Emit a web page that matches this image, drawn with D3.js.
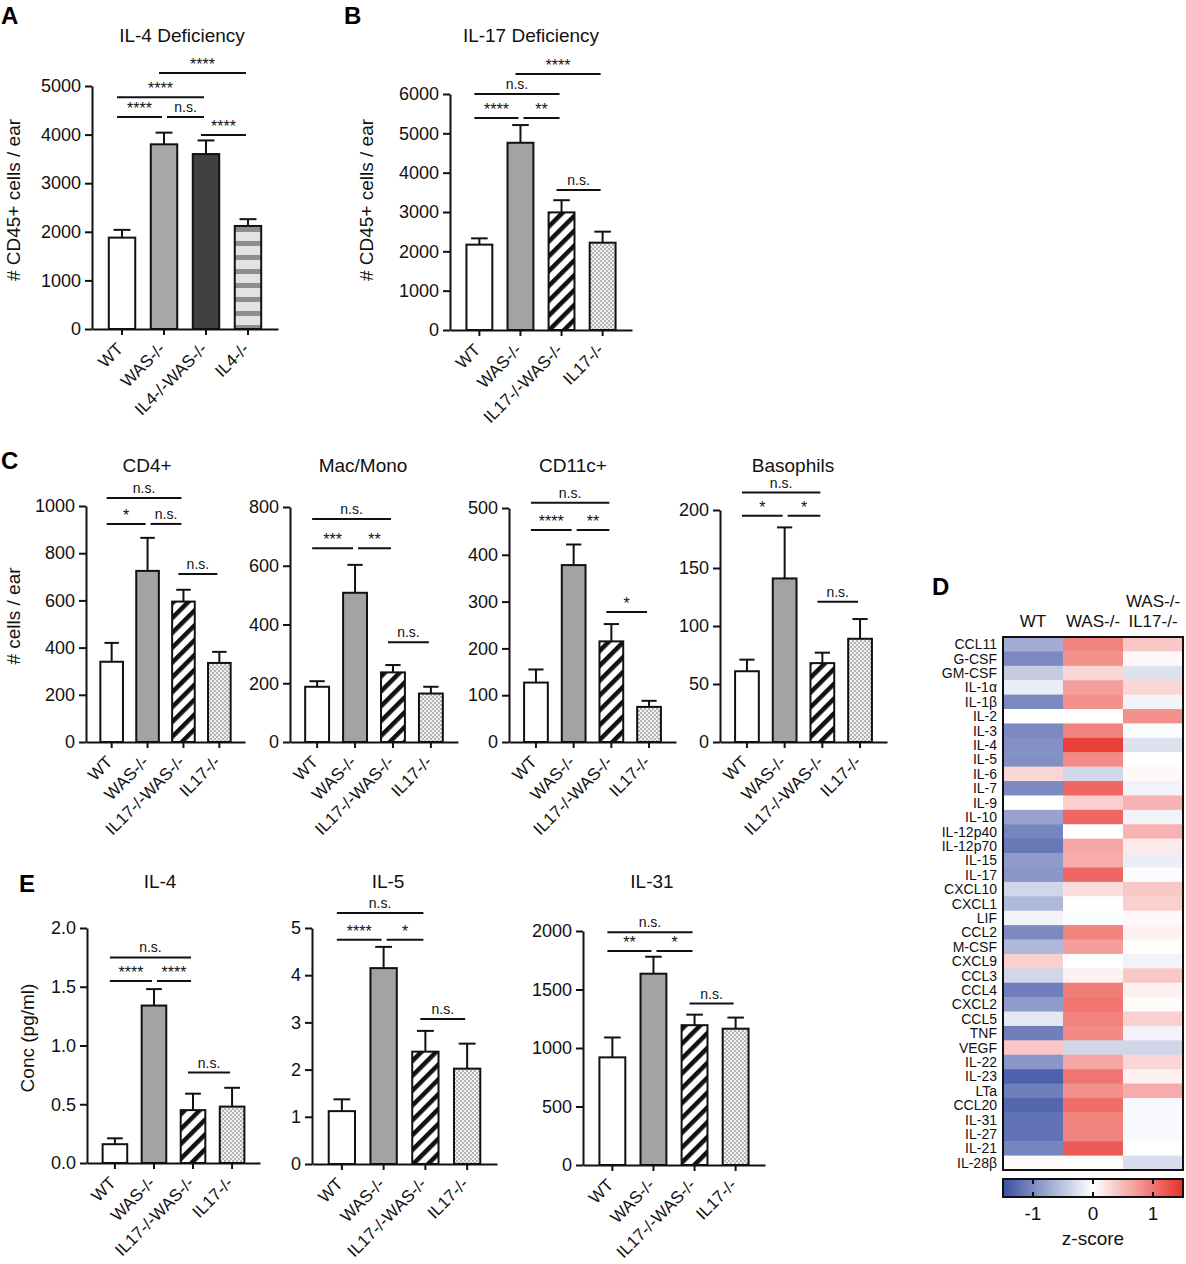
<!DOCTYPE html>
<html>
<head>
<meta charset="utf-8">
<script src="https://cdn.jsdelivr.net/npm/d3@7.9.0/dist/d3.min.js"></script>
<style>
  body { margin: 0; background: #fff; }
  svg { font-family: Arial, "Liberation Sans", Helvetica, sans-serif; }
</style>
</head>
<body>
<svg id="fig" width="1186" height="1264"></svg>
<script>
// ---- data ----
const groupsIL4 = ['WT', 'WAS-/-', 'IL4-/-WAS-/-', 'IL4-/-'];
const groupsIL17 = ['WT', 'WAS-/-', 'IL17-/-WAS-/-', 'IL17-/-'];

// A: CD45+ cells, IL-4 deficiency
const cd45Il4Mean = [1880, 3800, 3600, 2120];
const cd45Il4Sem = [160, 240, 280, 140];
const cd45Il4Sig = [[0, 1, 4360, '****'], [1, 2, 4360, 'n.s.'], [0, 2, 4770, '****'], [1, 3, 5270, '****'], [2, 3, 3990, '****']];

// B: CD45+ cells, IL-17 deficiency
const cd45Il17Mean = [2170, 4760, 2990, 2220];
const cd45Il17Sem = [160, 450, 310, 280];
const cd45Il17Sig = [[0, 1, 5390, '****'], [1, 2, 5390, '**'], [0, 2, 6000, 'n.s.'], [1, 3, 6510, '****'], [2, 3, 3560, 'n.s.']];

// C: cell subsets
const cd4Mean = [340, 725, 595, 335];
const cd4Sem = [80, 140, 50, 47];
const cd4Sig = [[0, 1, 924, '*'], [1, 2, 924, 'n.s.'], [0, 2, 1034, 'n.s.'], [2, 3, 712, 'n.s.']];

const macMean = [188, 508, 237, 165];
const macSem = [19, 95, 25, 23];
const macSig = [[0, 1, 660, '***'], [1, 2, 660, '**'], [0, 2, 759, 'n.s.'], [2, 3, 340, 'n.s.']];

const cd11cMean = [127, 378, 215, 75];
const cd11cSem = [28, 44, 37, 13];
const cd11cSig = [[0, 1, 453, '****'], [1, 2, 453, '**'], [0, 2, 511, 'n.s.'], [2, 3, 278, '*']];

const basoMean = [61, 141, 68, 89];
const basoSem = [10, 44, 9, 17];
const basoSig = [[0, 1, 195, '*'], [1, 2, 195, '*'], [0, 2, 215, 'n.s.'], [2, 3, 121, 'n.s.']];

// E: cytokine concentrations
const il4Mean = [0.16, 1.34, 0.45, 0.48];
const il4Sem = [0.05, 0.14, 0.14, 0.16];
const il4Sig = [[0, 1, 1.55, '****'], [1, 2, 1.55, '****'], [0, 2, 1.75, 'n.s.'], [2, 3, 0.77, 'n.s.']];

const il5Mean = [1.12, 4.15, 2.38, 2.02];
const il5Sem = [0.25, 0.45, 0.44, 0.53];
const il5Sig = [[0, 1, 4.75, '****'], [1, 2, 4.75, '*'], [0, 2, 5.32, 'n.s.'], [2, 3, 3.07, 'n.s.']];

const il31Mean = [920, 1635, 1195, 1165];
const il31Sem = [170, 145, 90, 95];
const il31Sig = [[0, 1, 1830, '**'], [1, 2, 1830, '*'], [0, 2, 1990, 'n.s.'], [2, 3, 1380, 'n.s.']];

// D: heatmap z-scores
const cytokines = ['CCL11', 'G-CSF', 'GM-CSF', 'IL-1α', 'IL-1β', 'IL-2', 'IL-3', 'IL-4', 'IL-5', 'IL-6',
  'IL-7', 'IL-9', 'IL-10', 'IL-12p40', 'IL-12p70', 'IL-15', 'IL-17', 'CXCL10', 'CXCL1', 'LIF',
  'CCL2', 'M-CSF', 'CXCL9', 'CCL3', 'CCL4', 'CXCL2', 'CCL5', 'TNF', 'VEGF', 'IL-22',
  'IL-23', 'LTa', 'CCL20', 'IL-31', 'IL-27', 'IL-21', 'IL-28β'];
const zWT = [-0.7, -1.0, -0.45, -0.15, -1.0, 0, -1.0, -0.95, -0.95, 0.3,
  -1.0, 0, -0.8, -1.05, -1.15, -0.85, -0.9, -0.35, -0.6, -0.1,
  -1.0, -0.6, 0.35, -0.35, -1.1, -0.85, -0.2, -1.1, 0.4, -0.9,
  -1.35, -1.1, -1.3, -1.2, -1.2, -1.05, 0.03];
const zWAS = [0.9, 0.8, 0.3, 0.7, 0.8, 0, 0.9, 1.4, 0.85, -0.35,
  1.1, 0.35, 1.1, 0, 0.65, 0.6, 1.1, 0.25, 0, -0.03,
  0.9, 0.7, 0, 0.1, 0.95, 1.0, 0.9, 0.85, -0.35, 0.65,
  1.0, 0.8, 1.05, 0.9, 0.9, 1.2, 0.02];
const zDKO = [0.4, 0.05, -0.25, 0.3, -0.1, 0.8, -0.03, -0.25, 0, 0.05,
  -0.1, 0.55, -0.1, 0.55, 0.15, -0.15, -0.03, 0.4, 0.35, 0.05,
  0.1, 0.02, -0.1, 0.4, 0.1, 0.03, 0.35, -0.1, -0.35, 0.3,
  0.1, 0.6, -0.05, -0.05, -0.05, 0, -0.3];
const heatCols = ['WT', 'WAS-/-', 'WAS-/- IL17-/-'];
const colorTicks = [-1, 0, 1];

// ---- drawing ----
const svg = d3.select('#fig');
const defs = svg.append('defs');

// horizontal grey stripes (IL4-/-)
const hs = defs.append('pattern').attr('id', 'hstripe').attr('patternUnits', 'userSpaceOnUse')
  .attr('width', 14).attr('height', 14);
hs.append('rect').attr('width', 14).attr('height', 14).attr('fill', '#e3e3e3');
hs.append('rect').attr('y', 3).attr('width', 14).attr('height', 5).attr('fill', '#8e8e8e');

// diagonal black stripes (IL17-/-WAS-/-)
const dg = defs.append('pattern').attr('id', 'diag').attr('patternUnits', 'userSpaceOnUse')
  .attr('width', 10.5).attr('height', 10.5).attr('patternTransform', 'rotate(45)');
dg.append('rect').attr('width', 10.5).attr('height', 10.5).attr('fill', '#fff');
dg.append('rect').attr('width', 4.5).attr('height', 10.5).attr('fill', '#111');

// fine checker (IL17-/-)
const ck = defs.append('pattern').attr('id', 'check').attr('patternUnits', 'userSpaceOnUse')
  .attr('width', 4).attr('height', 4);
ck.append('rect').attr('width', 4).attr('height', 4).attr('fill', '#f2f2f2');
ck.append('rect').attr('width', 2).attr('height', 2).attr('fill', '#b4b4b4');
ck.append('rect').attr('x', 2).attr('y', 2).attr('width', 2).attr('height', 2).attr('fill', '#b4b4b4');

const fillsIL4 = ['#ffffff', '#a8a8a8', '#404040', 'url(#hstripe)'];
const fillsIL17 = ['#ffffff', '#a3a3a3', 'url(#diag)', 'url(#check)'];

function panelLetter(txt, x, y) {
  svg.append('text').attr('x', x).attr('y', y).attr('font-size', 24).attr('font-weight', 'bold').text(txt);
}

function drawBarPanel(p) {
  const g = svg.append('g');
  const y = d3.scaleLinear().domain([0, p.max]).range([p.y0, p.yTop]);
  const x = d3.scaleBand().domain(p.groups).range([p.x0, p.x1]).paddingInner(0.37).paddingOuter(0.4);
  const bw = x.bandwidth();
  const cx = (i) => x(p.groups[i]) + bw / 2;
  const rows = p.groups.map((k, i) => ({ k, i, m: p.mean[i], s: p.sem[i] }));

  // bars
  g.selectAll('rect.bar').data(rows).join('rect')
    .attr('class', 'bar')
    .attr('x', (d) => x(d.k)).attr('width', bw)
    .attr('y', (d) => y(d.m)).attr('height', (d) => p.y0 - y(d.m))
    .attr('fill', (d) => p.fills[d.i])
    .attr('stroke', '#111').attr('stroke-width', 2);

  // error bars (mean + SEM)
  g.selectAll('line.err').data(rows).join('line')
    .attr('class', 'err')
    .attr('x1', (d) => cx(d.i)).attr('x2', (d) => cx(d.i))
    .attr('y1', (d) => y(d.m)).attr('y2', (d) => y(d.m + d.s))
    .attr('stroke', '#111').attr('stroke-width', 2);
  g.selectAll('line.cap').data(rows).join('line')
    .attr('class', 'cap')
    .attr('x1', (d) => cx(d.i) - bw * 0.32).attr('x2', (d) => cx(d.i) + bw * 0.32)
    .attr('y1', (d) => y(d.m + d.s)).attr('y2', (d) => y(d.m + d.s))
    .attr('stroke', '#111').attr('stroke-width', 2);

  // axes
  const ticks = d3.range(0, p.max + p.step / 2, p.step);
  const ya = g.append('g').attr('transform', `translate(${p.x0},0)`)
    .call(d3.axisLeft(y).tickValues(ticks).tickSize(7).tickSizeOuter(0).tickPadding(4)
      .tickFormat(p.fmt || d3.format('d')));
  ya.selectAll('text').attr('font-size', 18).attr('fill', '#111');
  const xa = g.append('g').attr('transform', `translate(0,${p.y0})`)
    .call(d3.axisBottom(x).tickSize(6).tickSizeOuter(0).tickFormat(''));
  [ya, xa].forEach((a) => {
    a.select('.domain').attr('stroke', '#111').attr('stroke-width', 2);
    a.selectAll('.tick line').attr('stroke', '#111').attr('stroke-width', 2);
  });

  // rotated group labels
  g.selectAll('text.xl').data(rows).join('text')
    .attr('class', 'xl')
    .attr('transform', (d) => `translate(${cx(d.i) + 2},${p.y0 + 21}) rotate(-45)`)
    .attr('text-anchor', 'end').attr('font-size', 17).attr('fill', '#111')
    .text((d) => d.k);

  // significance brackets
  const sig = p.sig.map(([a, b, v, lab]) => {
    const sharedStart = p.sig.some((o) => o[2] === v && o[1] === a);
    return { x1: cx(a) - 5 + (sharedStart ? 8 : 0), x2: cx(b) - 2, yy: y(v), lab };
  });
  g.selectAll('line.sig').data(sig).join('line')
    .attr('class', 'sig')
    .attr('x1', (d) => d.x1).attr('x2', (d) => d.x2)
    .attr('y1', (d) => d.yy).attr('y2', (d) => d.yy)
    .attr('stroke', '#111').attr('stroke-width', 2);
  g.selectAll('text.sig').data(sig).join('text')
    .attr('class', 'sig')
    .attr('x', (d) => (d.x1 + d.x2) / 2)
    .attr('y', (d) => d.yy - (d.lab === 'n.s.' ? 5 : 3))
    .attr('text-anchor', 'middle')
    .attr('font-size', (d) => (d.lab === 'n.s.' ? 14 : 16))
    .attr('fill', '#111')
    .text((d) => d.lab);

  // title and y label
  g.append('text').attr('x', p.tx).attr('y', p.ty).attr('text-anchor', 'middle')
    .attr('font-size', 19).attr('fill', '#111').text(p.title);
  if (p.ylabel) {
    g.append('text').attr('transform', `translate(${p.lx},${p.ly}) rotate(-90)`)
      .attr('text-anchor', 'middle').attr('font-size', 19).attr('fill', '#111').text(p.ylabel);
  }
}

// A
panelLetter('A', 1, 24);
drawBarPanel({ x0: 92, x1: 278, y0: 329, yTop: 86, max: 5000, step: 1000,
  groups: groupsIL4, mean: cd45Il4Mean, sem: cd45Il4Sem, fills: fillsIL4, sig: cd45Il4Sig,
  title: 'IL-4 Deficiency', tx: 182, ty: 42, ylabel: '# CD45+ cells / ear', lx: 20, ly: 200 });

// B
panelLetter('B', 344, 24);
drawBarPanel({ x0: 450, x1: 632, y0: 330, yTop: 94, max: 6000, step: 1000,
  groups: groupsIL17, mean: cd45Il17Mean, sem: cd45Il17Sem, fills: fillsIL17, sig: cd45Il17Sig,
  title: 'IL-17 Deficiency', tx: 531, ty: 42, ylabel: '# CD45+ cells / ear', lx: 373, ly: 200 });

// C
panelLetter('C', 1, 469);
drawBarPanel({ x0: 86, x1: 245, y0: 742, yTop: 506, max: 1000, step: 200,
  groups: groupsIL17, mean: cd4Mean, sem: cd4Sem, fills: fillsIL17, sig: cd4Sig,
  title: 'CD4+', tx: 147, ty: 472, ylabel: '# cells / ear', lx: 20, ly: 616 });
drawBarPanel({ x0: 290, x1: 458, y0: 742, yTop: 507, max: 800, step: 200,
  groups: groupsIL17, mean: macMean, sem: macSem, fills: fillsIL17, sig: macSig,
  title: 'Mac/Mono', tx: 363, ty: 472 });
drawBarPanel({ x0: 509, x1: 676, y0: 742, yTop: 508, max: 500, step: 100,
  groups: groupsIL17, mean: cd11cMean, sem: cd11cSem, fills: fillsIL17, sig: cd11cSig,
  title: 'CD11c+', tx: 573, ty: 472 });
drawBarPanel({ x0: 720, x1: 887, y0: 742, yTop: 510, max: 200, step: 50,
  groups: groupsIL17, mean: basoMean, sem: basoSem, fills: fillsIL17, sig: basoSig,
  title: 'Basophils', tx: 793, ty: 472 });

// E
panelLetter('E', 19, 892);
drawBarPanel({ x0: 87, x1: 260, y0: 1163, yTop: 928, max: 2, step: 0.5, fmt: d3.format('.1f'),
  groups: groupsIL17, mean: il4Mean, sem: il4Sem, fills: fillsIL17, sig: il4Sig,
  title: 'IL-4', tx: 160, ty: 888, ylabel: 'Conc (pg/ml)', lx: 34, ly: 1038 });
drawBarPanel({ x0: 312, x1: 497, y0: 1164, yTop: 928, max: 5, step: 1,
  groups: groupsIL17, mean: il5Mean, sem: il5Sem, fills: fillsIL17, sig: il5Sig,
  title: 'IL-5', tx: 388, ty: 888 });
drawBarPanel({ x0: 583, x1: 765, y0: 1165, yTop: 931, max: 2000, step: 500,
  groups: groupsIL17, mean: il31Mean, sem: il31Sem, fills: fillsIL17, sig: il31Sig,
  title: 'IL-31', tx: 652, ty: 888 });

// D heatmap
panelLetter('D', 932, 595);
const color = d3.scaleLinear().domain([-1.5, 0, 1.5]).range(['#3a50a2', '#ffffff', '#e8302a']).clamp(true);
const hx = d3.scaleBand().domain(heatCols).range([1003, 1183]);
const hy = d3.scaleBand().domain(cytokines).range([637, 1170]);
const cells = [];
cytokines.forEach((c, i) => {
  [zWT, zWAS, zDKO].forEach((arr, j) => cells.push({ c, col: heatCols[j], v: arr[i] }));
});
const hg = svg.append('g');
hg.selectAll('rect.cell').data(cells).join('rect')
  .attr('class', 'cell')
  .attr('x', (d) => hx(d.col)).attr('y', (d) => hy(d.c))
  .attr('width', hx.bandwidth() + 0.5).attr('height', hy.bandwidth() + 0.5)
  .attr('fill', (d) => color(d.v));
hg.append('rect').attr('x', 1003).attr('y', 637).attr('width', 180).attr('height', 533)
  .attr('fill', 'none').attr('stroke', '#111').attr('stroke-width', 2);
hg.selectAll('text.row').data(cytokines).join('text')
  .attr('class', 'row')
  .attr('x', 997).attr('y', (d) => hy(d) + hy.bandwidth() / 2)
  .attr('dy', '0.36em').attr('text-anchor', 'end').attr('font-size', 14).attr('fill', '#111')
  .text((d) => d);
hg.selectAll('text.col').data(heatCols).join('text')
  .attr('class', 'col')
  .attr('x', (d) => hx(d) + hx.bandwidth() / 2)
  .attr('y', (d) => (d.includes(' ') ? 607 : 627))
  .attr('text-anchor', 'middle').attr('font-size', 17).attr('fill', '#111')
  .each(function (d) {
    const parts = d.split(' ');
    parts.forEach((t, k) => {
      d3.select(this).append('tspan').attr('x', hx(d) + hx.bandwidth() / 2)
        .attr('dy', k === 0 ? 0 : 20).text(t);
    });
  });

// colour bar
const cbx = d3.scaleLinear().domain([-1.5, 1.5]).range([1003, 1183]);
const grad = defs.append('linearGradient').attr('id', 'cbar');
d3.range(-1.5, 1.51, 0.25).forEach((v) => {
  grad.append('stop').attr('offset', `${((v + 1.5) / 3) * 100}%`).attr('stop-color', color(v));
});
hg.append('rect').attr('x', 1003).attr('y', 1179).attr('width', 180).attr('height', 18)
  .attr('fill', 'url(#cbar)').attr('stroke', '#111').attr('stroke-width', 2);
hg.selectAll('line.cbt').data(colorTicks.flatMap((t) => [[t, 1179, 1184], [t, 1192, 1197]])).join('line')
  .attr('class', 'cbt')
  .attr('x1', (d) => cbx(d[0])).attr('x2', (d) => cbx(d[0]))
  .attr('y1', (d) => d[1]).attr('y2', (d) => d[2])
  .attr('stroke', '#111').attr('stroke-width', 2);
hg.selectAll('text.cbl').data(colorTicks).join('text')
  .attr('class', 'cbl')
  .attr('x', (d) => cbx(d)).attr('y', 1220).attr('text-anchor', 'middle')
  .attr('font-size', 19).attr('fill', '#111')
  .text((d) => (d < 0 ? '-' + Math.abs(d) : d));
hg.append('text').attr('x', 1093).attr('y', 1245).attr('text-anchor', 'middle')
  .attr('font-size', 19).attr('fill', '#111').text('z-score');
</script>
</body>
</html>
